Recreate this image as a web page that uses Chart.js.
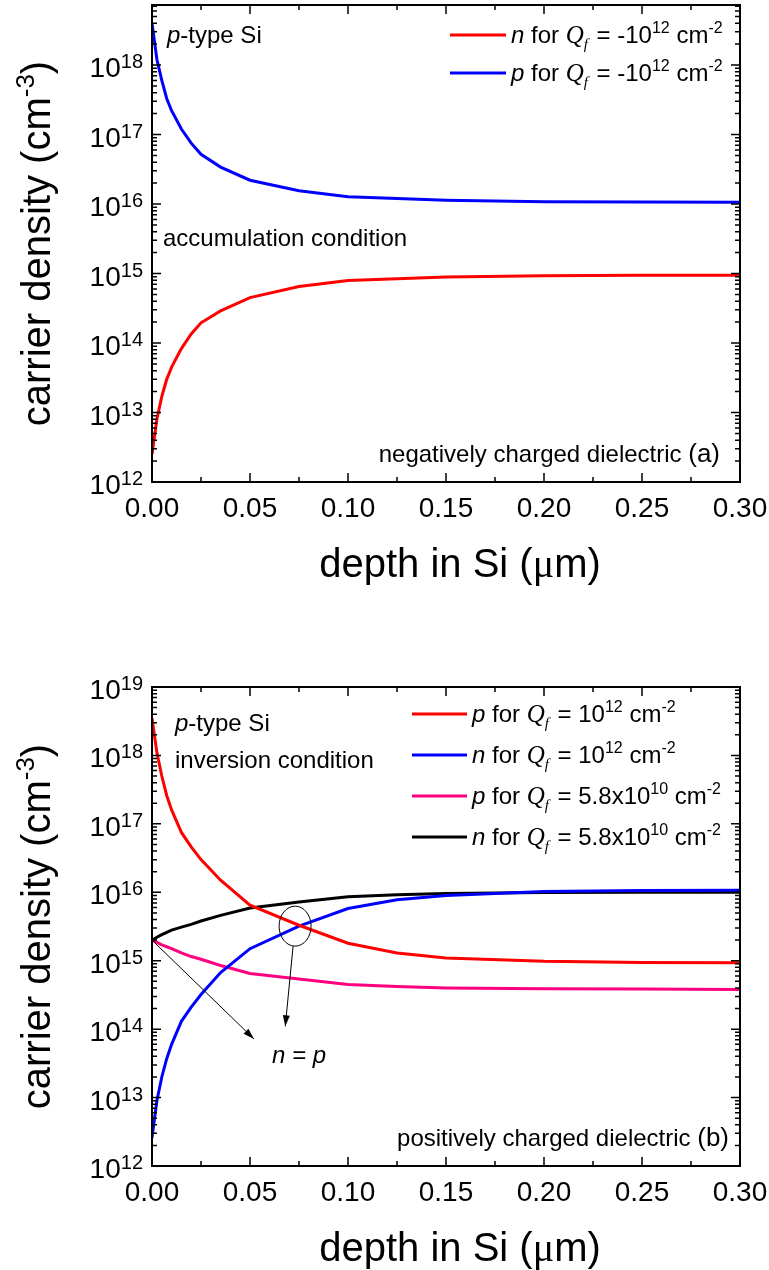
<!DOCTYPE html>
<html>
<head>
<meta charset="utf-8">
<script src="https://cdn.jsdelivr.net/npm/chart.js@4.4.0/dist/chart.umd.min.js"></script>
<style>
  html, body { margin: 0; padding: 0; background: #fff; }
  #wrap { position: relative; width: 769px; height: 1270px; }
  .box { position: absolute; left: 0; width: 769px; height: 635px; }
</style>
</head>
<body>
<div id="wrap">
  <div class="box" style="top:0"><canvas id="chart_a" width="769" height="635"></canvas></div>
  <div class="box" style="top:635px"><canvas id="chart_b" width="769" height="635"></canvas></div>
</div>
<script>
// depth in Si (um)
const depth_a = [0, 0.0025, 0.005, 0.0075, 0.01, 0.015, 0.02, 0.025, 0.035, 0.05, 0.075, 0.1, 0.15, 0.2, 0.25, 0.3];
// (a) negatively charged dielectric, Qf = -1e12 cm^-2
const n_neg = [2.5e12, 8e12, 1.7e13, 3e13, 4.5e13, 8.3e13, 1.35e14, 1.95e14, 2.9e14, 4.5e14, 6.5e14, 7.9e14, 8.9e14, 9.3e14, 9.4e14, 9.45e14];
const p_neg = [4.0e18, 1.2e18, 6e17, 3.3e17, 2.2e17, 1.2e17, 7.5e16, 5.2e16, 3.4e16, 2.2e16, 1.55e16, 1.27e16, 1.13e16, 1.08e16, 1.07e16, 1.06e16];

const depth_b = [0, 0.0025, 0.005, 0.0075, 0.01, 0.015, 0.02, 0.025, 0.035, 0.05, 0.075, 0.1, 0.125, 0.15, 0.2, 0.25, 0.3];
// (b) positively charged dielectric
const p_pos12 = [3.5e18, 1.1e18, 5e17, 2.6e17, 1.6e17, 7.5e16, 4.6e16, 3e16, 1.5e16, 6.5e15, 3.3e15, 1.8e15, 1.3e15, 1.1e15, 9.8e14, 9.4e14, 9.3e14];
const n_pos12 = [2.6e12, 9e12, 2e13, 3.7e13, 6e13, 1.3e14, 2.1e14, 3.2e14, 6.7e14, 1.5e15, 3.2e15, 5.8e15, 7.8e15, 9e15, 1.03e16, 1.06e16, 1.07e16];
const p_pos58 = [2e15, 1.85e15, 1.7e15, 1.6e15, 1.5e15, 1.3e15, 1.15e15, 1.05e15, 8.5e14, 6.5e14, 5.4e14, 4.5e14, 4.2e14, 4e14, 3.9e14, 3.85e14, 3.8e14];
const n_pos58 = [2e15, 2.2e15, 2.4e15, 2.6e15, 2.8e15, 3.1e15, 3.4e15, 3.8e15, 4.6e15, 5.9e15, 7.2e15, 8.6e15, 9.2e15, 9.6e15, 9.9e15, 1e16, 1e16];

const x_tick_labels = ['0.00', '0.05', '0.10', '0.15', '0.20', '0.25', '0.30'];
const y_exp_a = [12, 13, 14, 15, 16, 17, 18];
const y_exp_b = [12, 13, 14, 15, 16, 17, 18, 19];

const SANS = '"Liberation Sans", Arial, sans-serif';
const SERIF = '"Liberation Serif", "Times New Roman", serif';

const rg = (t, s) => ({ t: t, f: (s || 24) + 'px ' + SANS });
const it = (t, s) => ({ t: t, f: 'italic ' + (s || 24) + 'px ' + SANS });
const sup = (t, s, dy) => ({ t: t, f: (s || 16) + 'px ' + SANS, dy: dy || -10 });

function drawRich(ctx, x, y, parts, align) {
  let w = 0;
  parts.forEach(p => { ctx.font = p.f; p.w = ctx.measureText(p.t).width + (p.dx || 0); w += p.w; });
  let cx = align === 'right' ? x - w : align === 'center' ? x - w / 2 : x;
  ctx.textAlign = 'left';
  ctx.textBaseline = 'alphabetic';
  parts.forEach(p => { ctx.font = p.f; ctx.fillText(p.t, cx, y + (p.dy || 0)); cx += p.w; });
}

function qfLabel(carrier, coef, exp) {
  return [it(carrier), rg(' for '), { t: 'Q', f: 'italic 25px ' + SERIF },
    { t: 'f', f: 'italic 15px ' + SERIF, dy: 6, dx: 2 }, rg(' = ' + coef + '10'), sup(exp),
    rg(' cm'), sup('-2')];
}

function arrow(ctx, x1, y1, x2, y2) {
  ctx.beginPath(); ctx.moveTo(x1, y1); ctx.lineTo(x2, y2); ctx.stroke();
  const a = Math.atan2(y2 - y1, x2 - x1), L = 11, W = 3.5;
  ctx.beginPath();
  ctx.moveTo(x2, y2);
  ctx.lineTo(x2 - L * Math.cos(a) + W * Math.sin(a), y2 - L * Math.sin(a) - W * Math.cos(a));
  ctx.lineTo(x2 - L * Math.cos(a) - W * Math.sin(a), y2 - L * Math.sin(a) + W * Math.cos(a));
  ctx.closePath(); ctx.fill();
}

// frame, inward ticks on four sides, tick labels and axis titles
function framePlugin(yExps) {
  return {
    id: 'frame',
    afterDatasetsDraw(chart) {
      const { ctx, chartArea: a, scales: { x, y } } = chart;
      ctx.save();
      ctx.strokeStyle = '#000'; ctx.fillStyle = '#000';
      ctx.lineWidth = 1.5;
      // x ticks
      for (let i = 0; i <= 12; i++) {
        const px = x.getPixelForValue(i * 0.025);
        const len = i % 2 === 0 ? 9 : 5;
        ctx.beginPath();
        ctx.moveTo(px, a.bottom); ctx.lineTo(px, a.bottom - len);
        ctx.moveTo(px, a.top); ctx.lineTo(px, a.top + len);
        ctx.stroke();
      }
      // y ticks
      for (let k = yExps[0]; k <= yExps[yExps.length - 1]; k++) {
        for (let m = 1; m <= 9; m++) {
          const v = m * Math.pow(10, k);
          if (v < y.min * 0.999 || v > y.max * 1.001) continue;
          const py = y.getPixelForValue(v);
          const len = m === 1 ? 9 : 5;
          ctx.beginPath();
          ctx.moveTo(a.left, py); ctx.lineTo(a.left + len, py);
          ctx.moveTo(a.right, py); ctx.lineTo(a.right - len, py);
          ctx.stroke();
        }
      }
      ctx.lineWidth = 2;
      ctx.strokeRect(a.left, a.top, a.right - a.left, a.bottom - a.top);
      // tick labels
      x_tick_labels.forEach((lab, i) => {
        drawRich(ctx, x.getPixelForValue(i * 0.05), a.bottom + 35, [rg(lab, 28)], 'center');
      });
      yExps.forEach(e => {
        const py = y.getPixelForValue(Math.pow(10, e));
        drawRich(ctx, 143, py + 12, [rg('10', 28), { t: String(e), f: '20px ' + SANS, dy: -9 }], 'right');
      });
      // axis titles
      drawRich(ctx, 460, a.bottom + 95, [rg('depth in Si (', 40), { t: '\u03bc', f: '40px ' + SERIF }, rg('m)', 40)], 'center');
      ctx.save();
      ctx.translate(50, (a.top + a.bottom) / 2);
      ctx.rotate(-Math.PI / 2);
      drawRich(ctx, 0, 0, [rg('carrier density (cm', 40), sup('-3', 26, -16), rg(')', 40)], 'center');
      ctx.restore();
      ctx.restore();
    }
  };
}

const annotA = {
  id: 'annotA',
  afterDatasetsDraw(chart) {
    const { ctx, chartArea: a } = chart;
    ctx.save();
    ctx.fillStyle = '#000';
    drawRich(ctx, a.left + 15, 43, [it('p'), rg('-type Si')]);
    drawRich(ctx, a.left + 11, 246, [rg('accumulation condition')]);
    drawRich(ctx, 720, 462, [rg('negatively charged dielectric '), rg('(a)', 26)], 'right');
    // legend
    const rows = [['#ff0000', qfLabel('n', '-', '12')], ['#0000ff', qfLabel('p', '-', '12')]];
    rows.forEach((r, i) => {
      const yy = 35 + i * 38;
      ctx.strokeStyle = r[0]; ctx.lineWidth = 3;
      ctx.beginPath(); ctx.moveTo(450, yy); ctx.lineTo(506, yy); ctx.stroke();
      ctx.fillStyle = '#000';
      drawRich(ctx, 511, yy + 8, r[1]);
    });
    ctx.restore();
  }
};

const annotB = {
  id: 'annotB',
  afterDatasetsDraw(chart) {
    const { ctx, chartArea: a, scales: { x, y } } = chart;
    ctx.save();
    ctx.fillStyle = '#000';
    drawRich(ctx, a.left + 23, 96, [it('p'), rg('-type Si')]);
    drawRich(ctx, a.left + 23, 133, [rg('inversion condition')]);
    drawRich(ctx, 729, 511, [rg('positively charged dielectric '), rg('(b)', 26)], 'right');
    const rows = [
      ['#ff0000', qfLabel('p', '', '12')],
      ['#0000ff', qfLabel('n', '', '12')],
      ['#ff0080', qfLabel('p', '5.8x', '10')],
      ['#000000', qfLabel('n', '5.8x', '10')]
    ];
    rows.forEach((r, i) => {
      const yy = 79 + i * 41;
      ctx.strokeStyle = r[0]; ctx.lineWidth = 3;
      ctx.beginPath(); ctx.moveTo(412, yy); ctx.lineTo(467, yy); ctx.stroke();
      ctx.fillStyle = '#000';
      drawRich(ctx, 472, yy + 8, r[1]);
    });
    // n = p markers
    ctx.strokeStyle = '#000'; ctx.lineWidth = 1;
    const ex = x.getPixelForValue(0.073), ey = y.getPixelForValue(3.2e15);
    ctx.beginPath(); ctx.ellipse(ex, ey, 16, 20, 0, 0, Math.PI * 2); ctx.stroke();
    arrow(ctx, ex - 2, ey + 20, x.getPixelForValue(0.068), y.getPixelForValue(1.1e14));
    arrow(ctx, x.getPixelForValue(0), y.getPixelForValue(2e15), x.getPixelForValue(0.052), y.getPixelForValue(7.2e13));
    drawRich(ctx, x.getPixelForValue(0.075), y.getPixelForValue(3.2e13), [it('n'), it(' = '), it('p')], 'center');
    ctx.restore();
  }
};

function series(depth, vals, color) {
  return {
    data: depth.map((d, i) => ({ x: d, y: vals[i] })),
    borderColor: color,
    borderWidth: 3,
    pointRadius: 0,
    tension: 0,
    fill: false
  };
}

function makeChart(id, datasets, yMax, padTop, padBottom, yExps, annot) {
  return new Chart(document.getElementById(id).getContext('2d'), {
    type: 'line',
    data: { datasets: datasets },
    options: {
      responsive: false,
      animation: false,
      layout: { padding: { left: 152, right: 29, top: padTop, bottom: padBottom } },
      scales: {
        x: {
          type: 'linear', min: 0, max: 0.3,
          ticks: { display: false }, grid: { display: false }, border: { display: false },
          afterFit: s => { s.height = 0; }
        },
        y: {
          type: 'logarithmic', min: 1e12, max: yMax,
          ticks: { display: false }, grid: { display: false }, border: { display: false },
          afterFit: s => { s.width = 0; }
        }
      },
      plugins: { legend: { display: false }, tooltip: { enabled: false } }
    },
    plugins: [framePlugin(yExps), annot]
  });
}

makeChart('chart_a', [
  series(depth_a, n_neg, '#ff0000'),
  series(depth_a, p_neg, '#0000ff')
], 7.3e18, 5, 153, y_exp_a, annotA);

makeChart('chart_b', [
  series(depth_b, p_pos12, '#ff0000'),
  series(depth_b, n_pos12, '#0000ff'),
  series(depth_b, p_pos58, '#ff0080'),
  series(depth_b, n_pos58, '#000000')
], 1e19, 52, 104, y_exp_b, annotB);
</script>
</body>
</html>
